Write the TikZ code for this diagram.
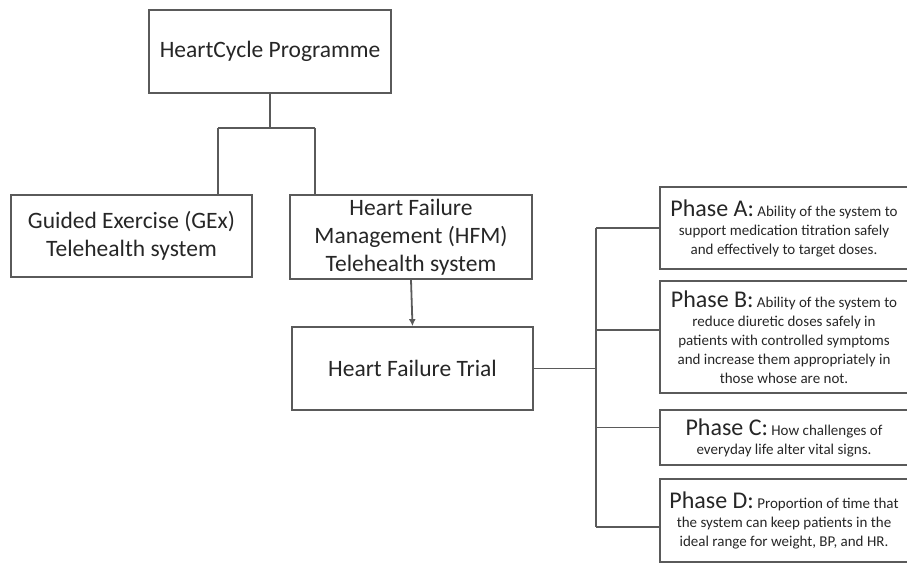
\documentclass[tikz,border=0pt]{standalone}
\usepackage{fontspec}
\setmainfont{Carlito}
\usetikzlibrary{arrows.meta,positioning}
\definecolor{LineGray}{HTML}{5A5A5A}
\definecolor{TextGray}{HTML}{262626}
\newcommand{\Tagfont}{\fontsize{24}{19}\selectfont}

\begin{document}
\begin{tikzpicture}[x=1pt,y=-1pt]
			\tikzstyle{Box}		= [draw=LineGray, line width=1.8pt, text=TextGray, align=center, inner sep=2pt]
			\tikzstyle{Big}		= [Box, font=\fontsize{23.5}{28}\selectfont]
			\tikzstyle{PhaseBox}	= [Box, minimum width=248pt, font=\fontsize{15}{19}\selectfont]
			\tikzstyle{Line}	= [draw=LineGray, line width=1.8pt]
			\tikzstyle{Arrow}	= [Line, -{Latex[length=7pt,width=7pt]}]

			\useasboundingbox (0,0) rectangle (907,565);

			\node (prog) at (270,51.5) [Big][minimum width=242pt, minimum height=83pt] {HeartCycle Programme};
			\node (gex) at (131.5,236) [Big][minimum width=241pt, minimum height=82pt] {Guided Exercise (GEx)\\Telehealth system};
			\node (hfm) at (411,237) [Big][minimum width=242pt, minimum height=84pt] {Heart Failure\\Management (HFM)\\Telehealth system};
			\node (trial) at (412.5,368.5) [Big][minimum width=241pt, minimum height=83pt] {Heart Failure Trial};

			\node (phA) at (784,228) [PhaseBox][minimum height=82pt] {{\Tagfont Phase A:} Ability of the system to\\support medication titration safely\\and effectively to target doses.};
			\node (phB) at (784,337) [PhaseBox][minimum height=112pt] {{\Tagfont Phase B:} Ability of the system to\\reduce diuretic doses safely in\\patients with controlled symptoms\\and increase them appropriately in\\those whose are not.};
			\node (phC) at (784,437.5) [PhaseBox][minimum height=55pt] {{\Tagfont Phase C:} How challenges of\\everyday life alter vital signs.};
			\node (phD) at (784,520.5) [PhaseBox][minimum height=83pt] {{\Tagfont Phase D:} Proportion of time that\\the system can keep patients in the\\ideal range for weight, BP, and HR.};

			\coordinate (jL) at (218,128);
			\coordinate (jR) at (315,128);
			\coordinate (bus) at (596,0);
			\coordinate (inA) at (phA.west);
			\coordinate (inB) at ([yshift=7pt]phB.west);
			\coordinate (inC) at ([yshift=10pt]phC.west);
			\coordinate (inD) at ([yshift=-6.5pt]phD.west);

			\draw [-] (prog.south) to (prog.south |- jL) [Line];
			\draw [-] (jL) to (jR) [Line];
			\draw [-] (jL) to (jL |- gex.north) [Line];
			\draw [-] (jR) to (jR |- hfm.north) [Line];
			\draw (hfm.south) to (trial.north) [Arrow];
			\draw [-] (trial.east) to (trial.east -| bus) [Line];
			\draw [-] (bus |- inA) to (bus |- inD) [Line];
			\draw [-] (bus |- inA) to (inA) [Line];
			\draw [-] (bus |- inB) to (inB) [Line];
			\draw [-] (bus |- inC) to (inC) [Line];
			\draw [-] (bus |- inD) to (inD) [Line];
		\end{tikzpicture}
\end{document}
